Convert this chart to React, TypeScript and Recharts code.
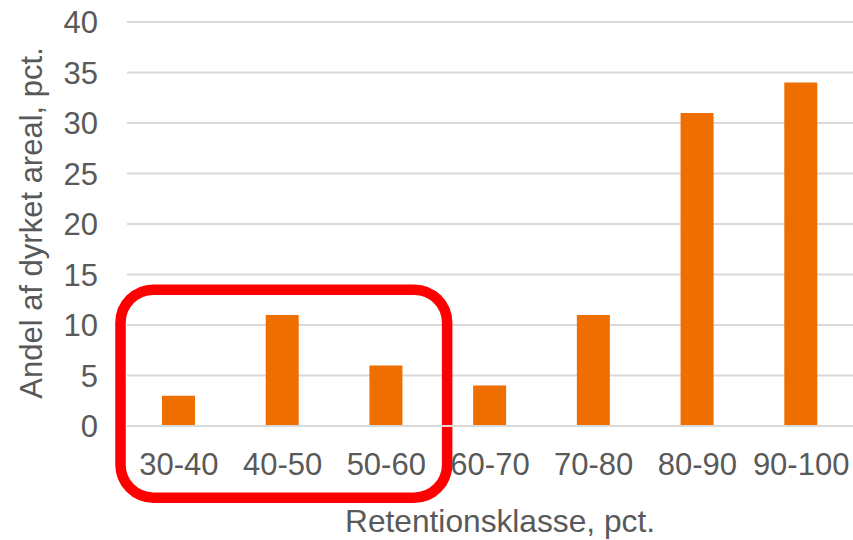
import React from "react";
import { BarChart, Bar, XAxis, YAxis, CartesianGrid, ReferenceArea, Label } from "recharts";

const categories = ["30-40", "40-50", "50-60", "60-70", "70-80", "80-90", "90-100"];
const shares = [3, 11, 6, 4, 11, 31, 34];
const yTicks = [0, 5, 10, 15, 20, 25, 30, 35, 40];
const xTitle = "Retentionsklasse, pct.";
const yTitle = "Andel af dyrket areal, pct.";
const highlightFrom = "30-40";
const highlightTo = "50-60";

const data = categories.map((c, i) => ({ cat: c, value: shares[i] }));

const FONT = "'Liberation Sans', Arial, sans-serif";
const TEXT = "#595959";

const HighlightShape = (props: any) => {
  const { x, width } = props;
  const y = props.y;
  const h = props.height;
  return (
    <rect
      x={x - 6.5}
      y={y}
      width={width + 15.5}
      height={h}
      rx={33}
      ry={33}
      fill="none"
      stroke="#FF0000"
      strokeWidth={10.5}
    />
  );
};

export default function App() {
  return (
    <div style={{ position: "absolute", left: 0, top: 0, background: "#fff" }}>
      <BarChart
        width={853}
        height={540}
        data={data}
        margin={{ top: 22, right: 0, bottom: 0, left: 0 }}
        barCategoryGap="0%"
      >
        <CartesianGrid vertical={false} stroke="#D9D9D9" strokeWidth={2} />
        <XAxis
          dataKey="cat"
          height={114}
          tickLine={false}
          tickSize={0}
          tickMargin={27}
          axisLine={{ stroke: "#D9D9D9", strokeWidth: 2 }}
          tick={{ fill: TEXT, fontSize: 31, fontFamily: FONT }}
          interval={0}
        >
          <Label
            content={() => (
              <text x={500} y={532} textAnchor="middle" fill={TEXT} fontSize={31.7} fontFamily={FONT}>
                {xTitle}
              </text>
            )}
          />
        </XAxis>
        <YAxis
          width={127}
          domain={[0, 40]}
          ticks={yTicks}
          interval={0}
          tickLine={false}
          axisLine={false}
          tickSize={0}
          tickMargin={29}
          tick={{ fill: TEXT, fontSize: 31, fontFamily: FONT }}
        >
          <Label
            content={() => (
              <text
                x={0}
                y={0}
                transform="translate(41.7,223) rotate(-90)"
                textAnchor="middle"
                fill={TEXT}
                fontSize={31}
                fontFamily={FONT}
              >
                {yTitle}
              </text>
            )}
          />
        </YAxis>
        <Bar dataKey="value" fill="#EE6F00" barSize={33} isAnimationActive={false} />
        <ReferenceArea
          x1={highlightFrom}
          x2={highlightTo}
          y1={-7.1}
          y2={13.5}
          ifOverflow="visible"
          shape={<HighlightShape />}
        />
      </BarChart>
    </div>
  );
}
